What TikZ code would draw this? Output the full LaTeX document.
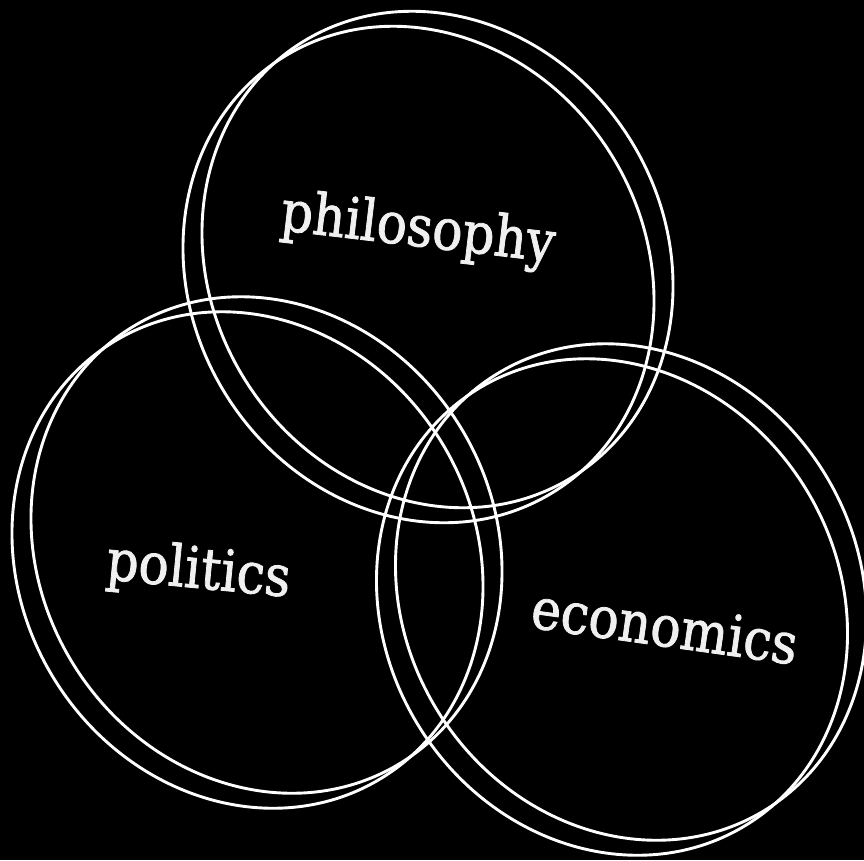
\documentclass[tikz,border=0pt]{standalone}
\usepackage{fontspec}
\setmainfont{DejaVu Serif}[FakeStretch=0.88,FakeBold=1.4]
\begin{document}
\begin{tikzpicture}[x=1pt,y=-1pt,
  ring/.style={draw=white, line width=2.9pt},
  lbl/.style={text=white!94!black, anchor=base, inner sep=0pt, font=\fontsize{57}{66}\selectfont}]
\fill[black] (0,0) rectangle (864,860);
\useasboundingbox (0,0) rectangle (864,860);
% philosophy
\coordinate (pa) at (437.5,259.5);
\coordinate (pb) at (418.5,274.5);
\draw[ring, rotate around={-58:(pa)}] (pa) ellipse [x radius=256, y radius=227];
\draw[ring, rotate around={-58:(pb)}] (pb) ellipse [x radius=256, y radius=227];
% politics
\coordinate (qa) at (266.5,545);
\coordinate (qb) at (247.5,560);
\draw[ring, rotate around={-58:(qa)}] (qa) ellipse [x radius=256, y radius=227];
\draw[ring, rotate around={-58:(qb)}] (qb) ellipse [x radius=256, y radius=227];
% economics
\coordinate (ea) at (631,592);
\coordinate (eb) at (612,607);
\draw[ring, rotate around={-58:(ea)}] (ea) ellipse [x radius=256, y radius=227];
\draw[ring, rotate around={-58:(eb)}] (eb) ellipse [x radius=256, y radius=227];
% labels
\node[lbl, rotate=-6.7] (phil) at (416,246) {philosophy};
\node[lbl, rotate=-5.5] (pol) at (197,588) {politics};
\node[lbl, rotate=-8] (eco) at (662,646) {economics};
\end{tikzpicture}
\end{document}
